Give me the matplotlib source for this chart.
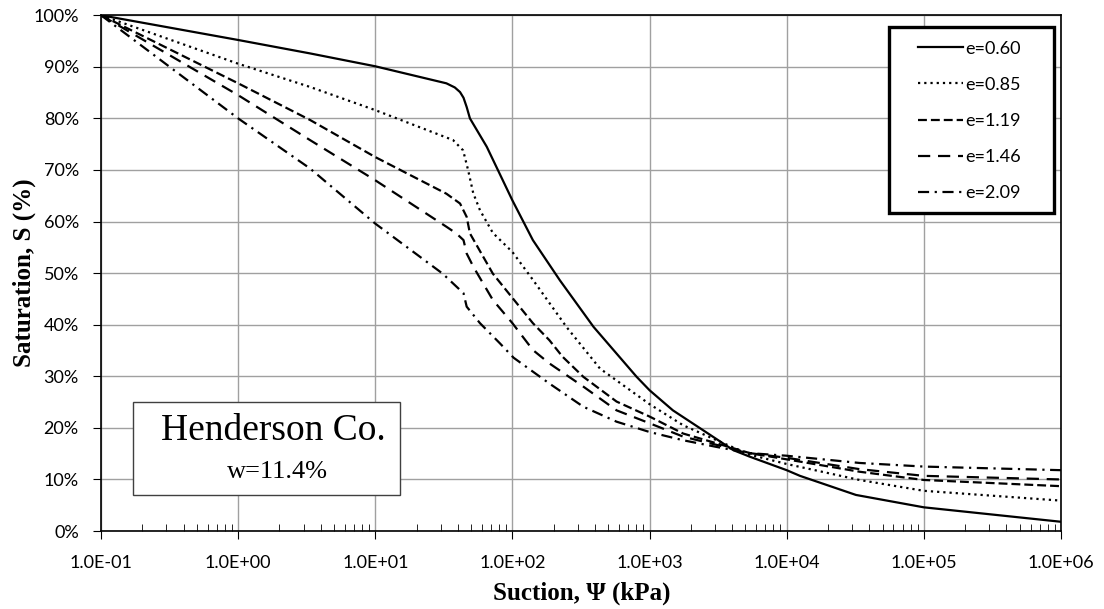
import numpy as np
import matplotlib
matplotlib.use("Agg")
import matplotlib.pyplot as plt
from matplotlib.ticker import FuncFormatter, LogLocator, NullFormatter
from matplotlib.patches import Rectangle

plt.rcParams['font.family'] = ['Lato', 'DejaVu Sans']

# e = 0.60
suc_060 = [0.1, 1, 3.34, 10, 33, 38, 41.5, 44, 46.4, 49, 65, 100, 141, 222, 390, 805,
           1000, 1480, 2440, 4070, 5400, 1e4, 12500, 32000, 1e5, 1e6]
sat_060 = [100, 95.2, 92.6, 90.1, 86.8, 86.0, 85.1, 84.0, 82.2, 80.0, 74.5, 64.1, 56.4,
           48.6, 39.6, 29.9, 27.3, 23.4, 19.6, 15.7, 14.4, 11.8, 10.7, 7.0, 4.6, 1.8]
# e = 0.85
suc_085 = [0.1, 1, 3.34, 10, 36.9, 43.7, 47.5, 51.8, 58, 72, 86, 100, 142, 249, 435, 1000,
           1760, 3090, 5400, 1e4, 34000, 1e5, 1e6]
sat_085 = [100, 90.6, 86.1, 81.6, 75.8, 73.8, 70.0, 65.5, 62.2, 57.8, 55.8, 54.1, 48.6,
           39.5, 31.5, 24.6, 20.5, 17.6, 14.8, 13.0, 9.9, 7.8, 5.9]
# e = 1.19
suc_119 = [0.1, 1, 3.34, 10, 33, 41.5, 46.4, 49, 72, 100, 141, 186, 232, 329, 575, 1000,
           1760, 3090, 5400, 1e4, 34000, 1e5, 1e6]
sat_119 = [100, 86.8, 79.7, 72.5, 65.4, 63.5, 60.9, 57.7, 49.9, 45.2, 40.3, 37.0, 33.8,
           29.9, 25.1, 22.2, 18.9, 17.0, 15.1, 13.9, 11.5, 9.9, 8.7]
# e = 1.46
suc_146 = [0.1, 1, 3.34, 10, 33, 39, 44, 46.4, 52, 72, 100, 141, 186, 329, 575, 1000,
           1760, 3090, 5400, 1e4, 34000, 1e5, 1e6]
sat_146 = [100, 84.5, 75.8, 68.0, 59.0, 57.7, 56.4, 53.8, 51.2, 44.8, 40.3, 35.1, 32.5,
           28.0, 23.4, 20.9, 18.3, 16.7, 15.1, 14.2, 12.0, 10.7, 10.0]
# e = 2.09
suc_209 = [0.1, 1, 3.34, 10, 31, 44, 46.4, 58, 81, 102, 186, 329, 575, 1000, 1760, 3090,
           5400, 1e4, 34000, 1e5, 1e6]
sat_209 = [100, 80.0, 70.3, 59.6, 49.9, 46.1, 43.5, 40.3, 36.4, 33.6, 28.6, 24.1, 21.2,
           19.2, 17.6, 16.3, 15.1, 14.6, 13.2, 12.5, 11.8]

labels = ['e=0.60', 'e=0.85', 'e=1.19', 'e=1.46', 'e=2.09']
series = [(suc_060, sat_060), (suc_085, sat_085), (suc_119, sat_119),
          (suc_146, sat_146), (suc_209, sat_209)]
styles = ['-', (0, (1, 1.8)), (0, (4, 1.8)), (0, (5.5, 3.5)), (0, (5, 2.5, 1, 2.5))]
x_ticks = [0.1, 1, 10, 100, 1000, 1e4, 1e5, 1e6]
y_ticks = [0, 10, 20, 30, 40, 50, 60, 70, 80, 90, 100]

fig = plt.figure(figsize=(11.04, 6.09), dpi=100)
ax = fig.add_axes([0.0915, 0.128, 0.8695, 0.847])

for (x, y), lab, ls in zip(series, labels, styles):
    ax.plot(x, y, color='black', lw=1.6, linestyle=ls, label=lab)

ax.set_xscale('log')
ax.set_xlim(0.1, 1e6)
ax.set_ylim(0, 100)
ax.set_yticks(y_ticks)
ax.yaxis.set_major_formatter(FuncFormatter(lambda v, p: '{:d}%'.format(int(round(v)))))
ax.set_xticks(x_ticks)
ax.xaxis.set_minor_locator(LogLocator(base=10, subs=np.arange(2, 10), numticks=100))
ax.xaxis.set_major_formatter(FuncFormatter(lambda v, p: '{:.1E}'.format(v)))
ax.xaxis.set_minor_formatter(NullFormatter())

ax.grid(True, which='major', color='#a0a0a0', lw=1)
ax.set_axisbelow(True)
for s in ax.spines.values():
    s.set_color('black')
    s.set_linewidth(1.2)

ax.tick_params(axis='y', which='major', direction='out', length=6, labelsize=13, pad=10)
ax.tick_params(axis='x', which='major', direction='out', length=6, labelsize=13, pad=11)
ax.tick_params(axis='x', which='minor', direction='in', length=5)

fig.text(582 / 1104, 1 - 593 / 609, 'Suction, Ψ (kPa)', family='Liberation Serif',
         fontweight='bold', fontsize=18, ha='center', va='center')
fig.text(24 / 1104, 1 - 272.5 / 609, 'Saturation, S (%)', family='Liberation Serif',
         fontweight='bold', fontsize=18, ha='center', va='center', rotation=90)

# legend box drawn by hand, entries placed inside
ax.add_patch(Rectangle((0.821, 0.616), 0.172, 0.361, transform=ax.transAxes,
                       facecolor='white', edgecolor='black', lw=2.4, zorder=4))
leg = ax.legend(loc='upper left', bbox_to_anchor=(0.851, 0.951), fontsize=13,
                handlelength=2.5, handletextpad=0.1, labelspacing=1.12,
                borderpad=0, borderaxespad=0, frameon=False)
leg.set_zorder(5)

ax.add_patch(Rectangle((0.033, 0.070), 0.278, 0.180, transform=ax.transAxes,
                       facecolor='white', edgecolor='#404040', lw=1, zorder=5))
ax.text(0.180, 0.194, 'Henderson Co.', transform=ax.transAxes, ha='center', va='center',
        family='Liberation Serif', fontsize=27, zorder=6)
ax.text(0.184, 0.115, 'w=11.4%', transform=ax.transAxes, ha='center', va='center',
        family='Liberation Serif', fontsize=19, zorder=6)

fig.savefig('out.png', dpi=100)
